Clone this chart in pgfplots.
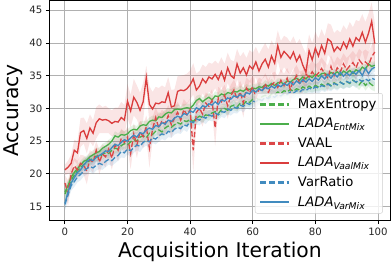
\documentclass[border=0pt]{standalone}
\usepackage{pgfplots}
\pgfplotsset{compat=1.18}
\usepackage{pgfplotstable}
\usepgfplotslibrary{fillbetween}
\usepackage{fontspec}
\setmainfont{DejaVu Sans}
\definecolor{cgreen}{HTML}{2CA02C}
\definecolor{cred}{HTML}{D62728}
\definecolor{cblue}{HTML}{1F77B4}
\definecolor{cgrid}{HTML}{B0B0B0}
\pgfplotstableread{
x me mes em ems va vas rm rms vr vrs vm vms
0 16.9 1.0 17.2 0.9 18.6 1.2 20.6 0.8 15.3 0.9 15.5 0.9
1 18.0 0.9 18.2 0.8 17.0 2.0 21.0 1.0 16.8 0.9 17.2 0.8
2 19.0 0.8 19.5 0.8 20.0 1.3 21.6 1.3 18.2 0.8 18.6 0.8
3 19.8 0.8 20.2 0.7 21.2 1.2 23.6 1.6 18.8 0.8 19.4 0.7
4 20.5 0.7 20.8 0.7 20.6 1.4 23.2 1.8 19.5 0.8 20.2 0.7
5 20.9 0.7 21.3 0.7 21.6 1.3 26.3 2.2 19.9 0.9 20.6 0.8
6 21.4 0.8 21.9 0.6 21.3 1.5 26.6 2.0 20.4 0.8 21.3 0.7
7 21.8 0.7 22.1 0.7 20.4 2.0 25.4 2.3 20.8 0.9 21.9 0.7
8 22.0 0.8 22.6 0.6 22.2 1.4 27.0 2.1 21.1 0.8 22.2 0.7
9 22.4 0.7 22.9 0.7 21.7 1.6 26.2 2.0 20.9 0.9 22.0 0.8
10 22.7 0.8 23.2 0.7 23.6 1.4 27.8 2.4 21.3 0.8 22.5 0.7
11 22.5 0.7 23.4 0.6 21.8 1.9 28.4 2.2 21.6 0.9 22.8 0.7
12 23.0 0.8 23.9 0.7 23.0 1.5 28.2 2.0 21.4 0.8 23.1 0.6
13 23.2 0.7 24.2 0.6 22.6 1.6 28.3 2.1 21.9 0.9 23.5 0.7
14 23.1 0.8 24.5 0.7 23.8 1.4 28.1 1.9 22.2 0.8 23.4 0.7
15 23.6 0.7 25.0 0.6 22.4 1.8 27.7 2.0 22.0 0.8 24.0 0.7
16 23.9 0.8 25.8 0.7 24.4 1.5 28.0 2.1 22.5 0.9 24.5 0.6
17 23.8 0.7 25.6 0.6 23.6 1.7 27.9 2.2 22.8 0.8 24.3 0.7
18 24.3 0.8 26.0 0.7 25.4 1.5 28.6 2.4 23.4 0.9 24.8 0.7
19 24.6 0.7 25.9 0.6 24.8 1.6 28.2 2.3 23.2 0.8 25.2 0.6
20 24.4 0.8 26.1 0.7 25.6 1.6 31.1 2.6 23.8 0.8 25.0 0.7
21 24.9 0.7 26.6 0.6 23.1 2.4 29.6 2.5 23.5 0.9 25.5 0.7
22 25.2 0.8 26.8 0.7 26.1 1.6 31.7 2.8 24.0 0.8 25.9 0.6
23 25.0 0.7 26.7 0.6 24.4 2.0 30.9 2.6 24.4 0.8 25.6 0.7
24 25.6 0.8 27.3 0.7 26.4 1.7 29.7 2.7 24.2 0.9 26.3 0.7
25 25.8 0.7 27.5 0.6 25.7 1.8 31.0 2.9 24.8 0.8 26.1 0.6
26 25.5 0.8 27.4 0.7 27.2 1.7 34.7 1.8 25.1 0.8 26.7 0.7
27 26.2 0.7 28.0 0.6 23.9 3.0 30.6 2.8 24.9 0.9 27.0 0.7
28 26.0 0.8 28.2 0.7 26.8 1.8 29.9 2.6 25.5 0.8 26.8 0.6
29 26.5 0.7 28.1 0.6 28.6 1.6 30.8 2.5 25.3 0.8 27.4 0.7
30 26.7 0.8 28.7 0.7 27.0 1.9 30.7 2.4 25.8 0.9 27.2 0.7
31 26.4 0.7 28.6 0.6 28.1 1.7 31.0 2.5 26.1 0.8 27.8 0.6
32 27.0 0.8 29.1 0.7 27.6 1.8 30.9 2.3 25.9 0.8 27.6 0.7
33 27.3 0.7 29.4 0.6 28.9 1.6 32.4 2.4 26.5 0.9 28.2 0.7
34 27.1 0.8 29.3 0.7 27.5 2.0 30.2 2.6 26.3 0.8 28.0 0.6
35 27.5 0.7 29.8 0.6 28.5 1.7 30.4 2.5 26.8 0.8 28.5 0.7
36 27.8 0.8 29.9 0.7 29.4 1.6 32.6 2.3 27.1 0.9 28.8 0.7
37 27.6 0.7 29.8 0.6 28.2 1.9 32.8 2.2 26.9 0.8 28.6 0.6
38 28.1 0.8 30.0 0.7 29.8 1.6 32.7 2.4 27.5 0.8 29.2 0.7
39 28.0 0.7 30.1 0.6 29.0 1.8 33.0 2.3 27.3 0.9 29.0 0.7
40 28.3 0.8 30.0 0.7 29.8 1.7 33.6 2.2 28.0 0.8 29.6 0.6
41 28.0 0.7 30.5 0.6 23.6 3.4 34.5 2.4 27.8 0.8 29.4 0.7
42 28.5 0.8 31.2 0.7 29.4 1.8 32.8 2.5 28.4 0.9 30.1 0.7
43 28.8 0.7 31.5 0.6 30.0 1.7 33.4 2.3 28.2 0.8 29.8 0.6
44 28.6 0.8 31.0 0.7 29.1 1.9 34.5 2.2 28.7 0.8 30.4 0.7
45 29.0 0.7 31.4 0.6 30.8 1.6 33.9 2.4 28.5 0.9 30.2 0.7
46 28.9 0.8 31.7 0.7 30.3 1.8 34.8 2.2 29.0 0.8 30.7 0.6
47 29.3 0.7 31.3 0.6 31.2 1.7 34.5 2.3 28.8 0.8 30.5 0.7
48 29.5 0.8 31.9 0.7 27.0 2.8 35.2 2.1 29.3 0.9 31.0 0.7
49 29.2 0.7 31.8 0.6 31.6 1.7 34.4 2.4 29.0 0.8 30.6 0.6
50 29.8 0.8 32.2 0.7 31.0 1.8 35.6 2.2 29.5 0.8 31.3 0.7
51 30.0 0.7 32.0 0.6 32.0 1.6 34.3 2.5 29.4 0.9 31.1 0.7
52 29.7 0.8 32.4 0.7 30.4 2.0 36.2 2.3 29.9 0.8 31.6 0.6
53 30.3 0.7 32.3 0.6 31.9 1.7 35.0 2.4 29.7 0.8 31.4 0.7
54 30.5 0.8 32.6 0.7 32.8 1.6 34.6 2.6 30.2 0.9 31.9 0.7
55 30.2 0.7 32.5 0.6 31.4 1.9 36.8 2.3 30.0 0.8 31.7 0.6
56 30.8 0.8 32.8 0.7 32.5 1.7 35.4 2.5 30.5 0.8 32.1 0.7
57 30.6 0.7 32.6 0.6 30.8 2.2 36.2 2.4 30.3 0.9 31.8 0.7
58 31.1 0.8 33.0 0.7 33.1 1.6 35.1 2.6 30.8 0.8 32.4 0.6
59 30.9 0.7 32.9 0.6 32.4 1.8 36.5 2.4 30.6 0.8 32.2 0.7
60 31.4 0.8 33.1 0.7 33.3 1.7 36.0 2.5 31.1 0.9 32.8 0.7
61 31.6 0.7 33.0 0.6 31.6 2.1 37.1 2.3 31.0 0.8 32.5 0.6
62 31.3 0.8 33.3 0.7 33.0 1.7 35.7 2.6 31.4 0.8 33.0 0.7
63 31.8 0.7 33.2 0.6 32.6 1.8 36.8 2.4 31.2 0.9 32.7 0.7
64 32.0 0.8 33.6 0.7 33.8 1.6 37.5 2.5 31.7 0.8 33.2 0.6
65 31.7 0.7 33.4 0.6 32.4 1.9 36.3 2.7 31.5 0.8 33.0 0.7
66 32.2 0.8 33.8 0.7 33.6 1.7 38.0 2.4 31.9 0.9 33.4 0.7
67 32.1 0.7 33.5 0.6 34.0 1.6 36.9 2.6 31.7 0.8 33.1 0.6
68 32.5 0.8 33.9 0.7 33.2 1.8 39.6 2.3 32.1 0.8 33.6 0.7
69 32.3 0.7 34.0 0.6 34.3 1.7 37.8 2.5 31.9 0.9 33.3 0.7
70 32.7 0.8 33.7 0.7 33.5 1.8 38.7 2.4 32.3 0.8 33.8 0.6
71 32.5 0.7 34.2 0.6 34.6 1.6 38.2 2.6 32.1 0.8 33.5 0.7
72 32.9 0.8 34.0 0.7 32.9 2.0 37.6 2.5 32.5 0.9 34.0 0.7
73 32.6 0.7 34.4 0.6 34.2 1.7 38.6 2.4 32.3 0.8 33.6 0.6
74 33.0 0.8 34.6 0.7 35.0 1.6 37.2 2.7 32.7 0.8 34.2 0.7
75 32.8 0.7 34.3 0.6 33.8 1.8 38.1 2.5 32.5 0.9 33.8 0.7
76 33.3 0.8 34.8 0.7 34.1 1.7 36.6 2.8 32.9 0.8 34.4 0.6
77 33.0 0.7 34.5 0.6 35.2 1.6 35.5 2.9 32.7 0.8 34.0 0.7
78 33.4 0.8 35.0 0.7 34.8 1.8 38.8 2.5 33.1 0.9 34.5 0.7
79 33.1 0.7 34.7 0.6 35.6 1.7 37.4 2.6 32.9 0.8 34.1 0.6
80 33.5 0.8 35.2 0.7 34.9 1.8 39.2 2.5 33.3 0.8 34.7 0.7
81 33.3 0.7 34.9 0.6 35.4 1.6 38.0 2.7 33.1 0.9 34.3 0.7
82 33.7 0.8 35.3 0.7 36.1 1.7 39.6 2.5 33.5 0.8 35.0 0.6
83 33.4 0.7 35.4 0.6 35.3 1.8 38.4 2.6 33.3 0.8 34.5 0.7
84 33.8 0.8 35.0 0.7 34.6 2.0 40.6 2.4 33.7 0.9 35.2 0.7
85 33.5 0.7 35.5 0.6 36.4 1.7 40.2 2.6 33.4 0.8 34.6 0.6
86 33.9 0.8 35.2 0.7 35.0 1.9 38.7 2.8 33.8 0.8 35.3 0.7
87 33.6 0.7 35.6 0.6 36.2 1.7 39.4 2.6 33.6 0.9 34.8 0.7
88 34.0 0.8 35.1 0.7 35.6 1.8 38.9 2.7 34.0 0.8 35.5 0.6
89 33.7 0.7 35.7 0.6 36.8 1.6 40.1 2.6 33.7 0.8 34.9 0.7
90 34.1 0.8 35.4 0.7 35.9 1.8 39.2 2.8 34.1 0.9 35.4 0.7
91 33.8 0.7 35.8 0.6 36.5 1.7 40.6 2.6 33.9 0.8 35.0 0.6
92 34.3 0.8 35.3 0.7 37.0 1.8 39.5 2.9 34.3 0.8 35.6 0.7
93 34.0 0.7 35.9 0.6 36.2 1.9 40.8 2.7 34.0 0.9 35.2 0.7
94 33.6 0.8 35.6 0.7 37.4 1.7 40.3 3.0 34.4 0.8 35.8 0.6
95 34.2 0.7 36.3 0.6 36.8 1.8 41.6 2.8 34.1 0.8 35.0 0.7
96 33.5 0.8 36.0 0.7 37.1 1.9 40.1 3.1 34.5 0.9 36.1 0.7
97 34.0 0.7 36.8 0.6 36.6 2.0 41.5 3.0 34.2 0.8 35.3 0.6
98 33.6 0.8 36.4 0.7 37.9 1.8 43.3 2.9 34.6 0.8 36.0 0.7
99 33.3 0.7 36.6 0.6 38.6 1.9 39.9 3.2 34.4 0.9 36.3 0.7
}\data
\newcommand{\band}[3]{%
\addplot[name path=#1U, draw=none, forget plot] table[x=x, y expr=\thisrow{#1}+\thisrow{#2}] {\data};
\addplot[name path=#1L, draw=none, forget plot] table[x=x, y expr=\thisrow{#1}-\thisrow{#2}] {\data};
\addplot[fill=#3, fill opacity=0.12, draw=none, forget plot] fill between[of=#1U and #1L];
}
\newcommand{\dashimg}[1]{%
\draw[draw=#1, solid, line width=2.2pt] (0pt,0pt) -- (6pt,0pt);
\draw[draw=#1, solid, line width=2.2pt] (8.6pt,0pt) -- (14.6pt,0pt);
\draw[draw=#1, solid, line width=2.2pt] (17.2pt,0pt) -- (23.2pt,0pt);
\draw[draw=#1, solid, line width=2.2pt] (25.8pt,0pt) -- (28pt,0pt);
}
\begin{document}
\begin{tikzpicture}
\begin{axis}[
  scale only axis, width=336pt, height=217pt,
  xmin=-4.95, xmax=103.95, ymin=12.85, ymax=46.5,
  xtick={0,20,40,60,80,100}, ytick={15,20,25,30,35,40,45},
  grid=major, grid style={color=cgrid, line width=0.8pt},
  axis line style={line width=0.8pt},
  tick pos=left, tick align=outside, major tick length=3.5pt,
  tick style={black, line width=0.8pt},
  ticklabel style={font=\fontsize{10}{12}\selectfont, color=black!85},
  /pgf/number format/assume math mode=true,
  xlabel={Acquisition Iteration}, ylabel={Accuracy},
  label style={font=\fontsize{20}{24}\selectfont},
  legend cell align=left,
  legend style={at={(0.978,0.032)}, anchor=south east, draw=black!20, rounded corners=2pt,
    fill=white, fill opacity=0.8, text opacity=1, draw opacity=1,
    font=\fontsize{13}{15}\selectfont,
    row sep=4.2pt, inner xsep=4pt, inner ysep=3.5pt,
    /tikz/every odd column/.append style={column sep=6pt}},
  legend image code/.code={\draw[#1, line width=1.8pt] (0pt,0pt) -- (28pt,0pt);},
]
\band{me}{mes}{cgreen}
\band{em}{ems}{cgreen}
\band{va}{vas}{cred}
\band{rm}{rms}{cred}
\band{vr}{vrs}{cblue}
\band{vm}{vms}{cblue}
\addplot[cgreen!85, line width=1.3pt, dash pattern=on 5.5pt off 2.4pt,
  legend image code/.code={\dashimg{cgreen!85}}] table[x=x, y=me] {\data};
\addlegendentry{MaxEntropy}
\addplot[cgreen!85, line width=1.3pt] table[x=x, y=em] {\data};
\addlegendentry{\textit{LADA}\textsubscript{\textit{EntMix}}}
\addplot[cred!85, line width=1.3pt, dash pattern=on 5.5pt off 2.4pt,
  legend image code/.code={\dashimg{cred!85}}] table[x=x, y=va] {\data};
\addlegendentry{VAAL}
\addplot[cred!90, line width=1.3pt] table[x=x, y=rm] {\data};
\addlegendentry{\textit{LADA}\textsubscript{\textit{VaalMix}}}
\addplot[cblue!85, line width=1.3pt, dash pattern=on 5.5pt off 2.4pt,
  legend image code/.code={\dashimg{cblue!85}}] table[x=x, y=vr] {\data};
\addlegendentry{VarRatio}
\addplot[cblue!85, line width=1.3pt] table[x=x, y=vm] {\data};
\addlegendentry{\textit{LADA}\textsubscript{\textit{VarMix}}}
\end{axis}
\end{tikzpicture}
\end{document}
